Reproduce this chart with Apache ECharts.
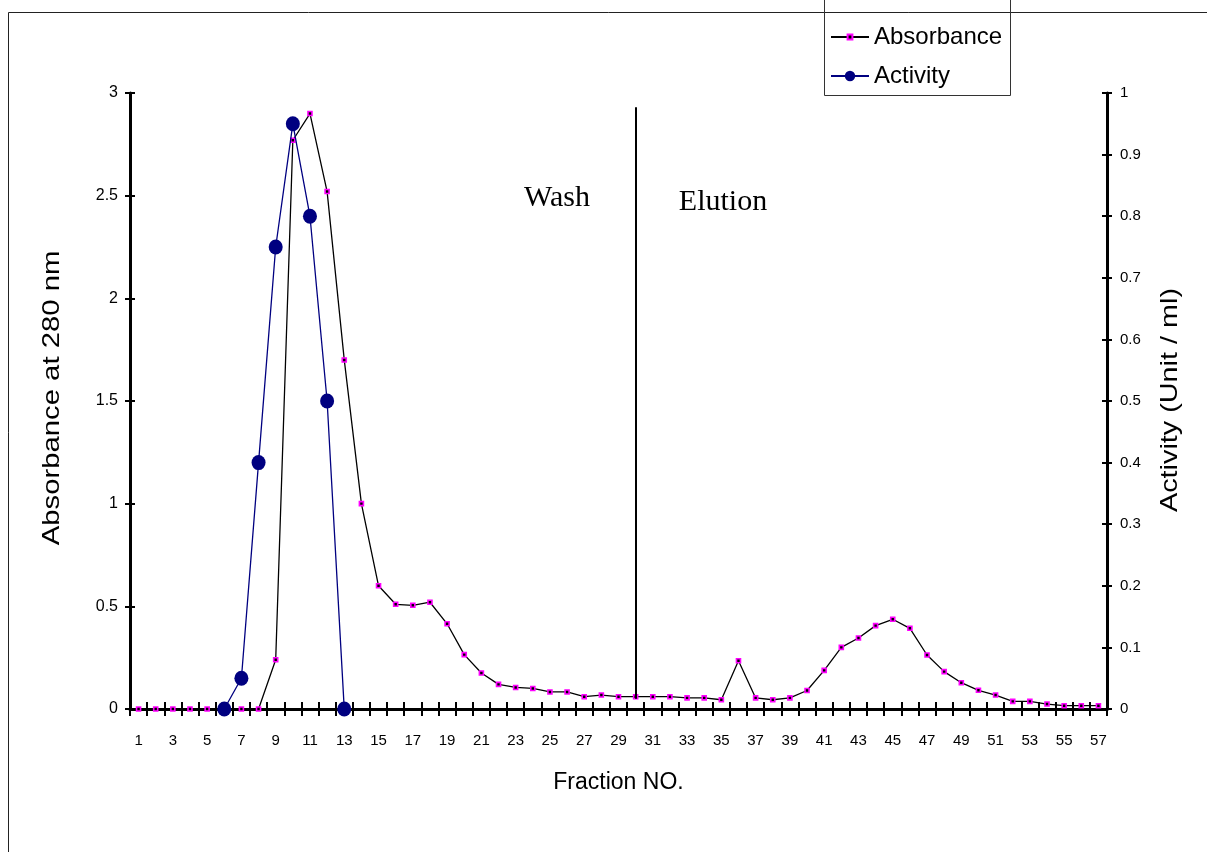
<!DOCTYPE html>
<html>
<head>
<meta charset="utf-8">
<script src="https://cdn.jsdelivr.net/npm/echarts@6/dist/echarts.min.js"></script>
<style>
  html, body { margin: 0; padding: 0; background: #fff; }
  #chart { width: 1207px; height: 852px; }
</style>
</head>
<body>
<div id="chart"></div>
<script>
// Fraction numbers 1..57
const fractions = [
  '1','2','3','4','5','6','7','8','9','10','11','12','13','14','15','16','17','18','19','20',
  '21','22','23','24','25','26','27','28','29','30','31','32','33','34','35','36','37','38','39','40',
  '41','42','43','44','45','46','47','48','49','50','51','52','53','54','55','56','57'
];

// Absorbance at 280 nm for each fraction
const absorbance = [
  0, 0, 0, 0, 0, 0, 0, 0, 0.24, 2.77,
  2.9, 2.52, 1.7, 1.0, 0.6, 0.51, 0.505, 0.52, 0.415, 0.265,
  0.175, 0.12, 0.105, 0.1, 0.083, 0.083, 0.06, 0.068, 0.06, 0.06,
  0.06, 0.06, 0.054, 0.054, 0.045, 0.235, 0.054, 0.045, 0.054, 0.09,
  0.188, 0.3, 0.346, 0.406, 0.437, 0.393, 0.263, 0.182, 0.128, 0.091,
  0.068, 0.037, 0.037, 0.024, 0.016, 0.016, 0.016
];

// Enzyme activity (Unit / ml); measured only for fractions 6..13
const activity = [
  null, null, null, null, null, 0, 0.05, 0.4, 0.75, 0.95,
  0.8, 0.5, 0
];

// Wash / Elution divider: fraction and its vertical extent (absorbance units)
const dividerFraction = '30';
const dividerRange = [2.93, 0.05];

const FONT = '"Liberation Sans", Arial, sans-serif';
const SERIF = '"Liberation Serif", "Times New Roman", serif';

const chart = echarts.init(document.getElementById('chart'), null, { renderer: 'canvas' });

const axisLineStyle = { color: '#000', width: 3 };
const tickStyle = { color: '#000', width: 2 };
const legendText = { fontFamily: FONT, fontSize: 24, color: '#000' };

const option = {
  backgroundColor: '#fff',
  animation: false,
  grid: { left: 130, right: 100, top: 93, bottom: 143, containLabel: false },
  legend: [
    {
      left: 830, top: 25, padding: 0,
      itemWidth: 38, itemHeight: 6,
      textStyle: legendText,
      data: ['Absorbance']
    },
    {
      left: 830, top: 64, padding: 0,
      itemWidth: 38, itemHeight: 13,
      textStyle: legendText,
      data: ['Activity']
    }
  ],
  graphic: [
    {
      // page frame
      type: 'rect',
      silent: true,
      z: -10,
      shape: { x: 8.5, y: 12.5, width: 1300, height: 900 },
      style: { fill: null, stroke: '#222', lineWidth: 1 }
    },
    {
      // legend box
      type: 'rect',
      silent: true,
      z: -5,
      shape: { x: 824.5, y: -5, width: 186, height: 100.5 },
      style: { fill: null, stroke: '#333', lineWidth: 1 }
    },
    {
      type: 'text',
      x: 557, y: 198,
      style: { text: 'Wash', font: '30px ' + SERIF, fill: '#000', textAlign: 'center', textVerticalAlign: 'middle' }
    },
    {
      type: 'text',
      x: 723, y: 202,
      style: { text: 'Elution', font: '30px ' + SERIF, fill: '#000', textAlign: 'center', textVerticalAlign: 'middle' }
    },
    {
      // left axis title
      type: 'text',
      x: 52, y: 398,
      rotation: Math.PI / 2,
      scaleX: 1.22,
      style: { text: 'Absorbance at 280 nm', font: '24px ' + FONT, fill: '#000', textAlign: 'center', textVerticalAlign: 'middle' }
    },
    {
      // right axis title
      type: 'text',
      x: 1170, y: 400,
      rotation: Math.PI / 2,
      scaleX: 1.2,
      style: { text: 'Activity (Unit / ml)', font: '24px ' + FONT, fill: '#000', textAlign: 'center', textVerticalAlign: 'middle' }
    }
  ],
  xAxis: [
    {
      type: 'category',
      data: fractions,
      boundaryGap: true,
      position: 'bottom',
      name: 'Fraction NO.',
      nameLocation: 'middle',
      nameGap: 62,
      nameTextStyle: { fontFamily: FONT, fontSize: 23, color: '#000' },
      axisLine: { lineStyle: axisLineStyle },
      axisTick: { show: true, interval: 0, length: 7, lineStyle: tickStyle },
      axisLabel: { interval: 1, margin: 24, fontFamily: FONT, fontSize: 15, color: '#000' },
      splitLine: { show: false }
    },
    {
      // inner half of the crossing ticks
      type: 'category',
      data: fractions,
      boundaryGap: true,
      position: 'bottom',
      axisLine: { show: false },
      axisTick: { show: true, inside: true, interval: 0, length: 7, lineStyle: tickStyle },
      axisLabel: { show: false },
      splitLine: { show: false }
    }
  ],
  yAxis: [
    {
      type: 'value',
      position: 'left',
      min: 0, max: 3, interval: 0.5,
      axisLine: { show: true, lineStyle: axisLineStyle },
      axisTick: { show: true, length: 5, lineStyle: tickStyle },
      axisLabel: { margin: 12, fontFamily: FONT, fontSize: 16, color: '#000' },
      splitLine: { show: false }
    },
    {
      type: 'value',
      position: 'right',
      min: 0, max: 1, interval: 0.1,
      axisLine: { show: true, lineStyle: axisLineStyle },
      axisTick: { show: true, length: 5, lineStyle: tickStyle },
      axisLabel: { margin: 13, fontFamily: FONT, fontSize: 15, color: '#000' },
      splitLine: { show: false }
    },
    {
      // inner half of the left crossing ticks
      type: 'value',
      position: 'left',
      min: 0, max: 3, interval: 0.5,
      axisLine: { show: false },
      axisTick: { show: true, inside: true, length: 5, lineStyle: tickStyle },
      axisLabel: { show: false },
      splitLine: { show: false }
    },
    {
      // inner half of the right crossing ticks
      type: 'value',
      position: 'right',
      min: 0, max: 1, interval: 0.1,
      axisLine: { show: false },
      axisTick: { show: true, inside: true, length: 5, lineStyle: tickStyle },
      axisLabel: { show: false },
      splitLine: { show: false }
    }
  ],
  series: [
    {
      name: 'Absorbance',
      type: 'line',
      xAxisIndex: 0,
      yAxisIndex: 0,
      data: absorbance,
      symbol: 'rect',
      symbolSize: 4,
      showAllSymbol: true,
      lineStyle: { color: '#000', width: 1.3 },
      itemStyle: { color: '#000', borderColor: '#ff00ff', borderWidth: 1.6 },
      z: 3,
      markLine: {
        silent: true,
        symbol: 'none',
        label: { show: false },
        lineStyle: { color: '#000', width: 2, type: 'solid' },
        data: [[
          { coord: [dividerFraction, dividerRange[0]] },
          { coord: [dividerFraction, dividerRange[1]] }
        ]]
      }
    },
    {
      name: 'Activity',
      type: 'line',
      xAxisIndex: 0,
      yAxisIndex: 1,
      data: activity,
      symbol: 'circle',
      symbolSize: [14, 15],
      showAllSymbol: true,
      lineStyle: { color: '#000080', width: 1.3 },
      itemStyle: { color: '#000080' },
      z: 4
    }
  ]
};

chart.setOption(option);
</script>
</body>
</html>
